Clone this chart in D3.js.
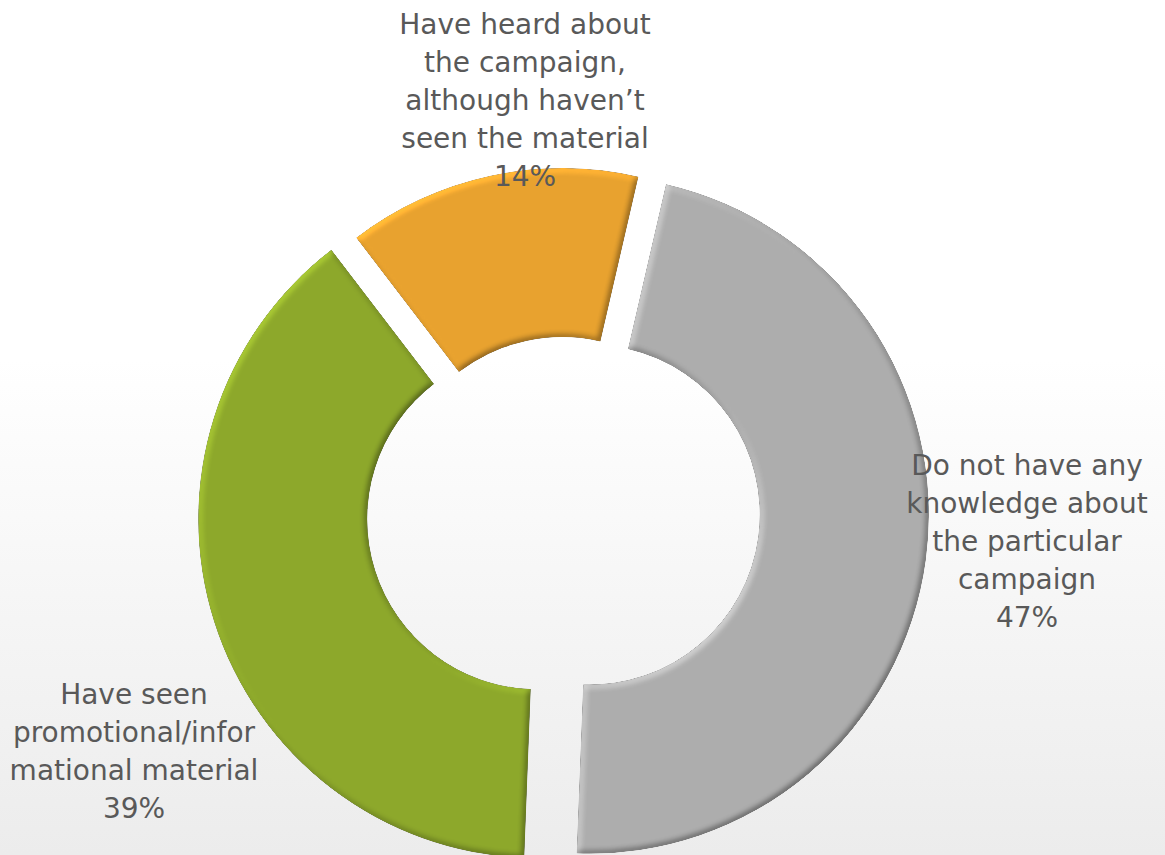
<!DOCTYPE html>
<html>
<head>
<meta charset="utf-8">
<script src="https://cdn.jsdelivr.net/npm/d3@7"></script>
<style>
  html, body { margin: 0; padding: 0; background: #fff; }
  svg { display: block; }
</style>
</head>
<body>
<svg id="chart" width="1165" height="855"></svg>
<script>
// Awareness of the campaign – share of respondents
const categories = [
  "Do not have any knowledge about the particular campaign",
  "Have seen promotional/informational material",
  "Have heard about the campaign, although haven’t seen the material"
];
const shares = [47, 39, 14];
const labelLines = [
  ["Do not have any", "knowledge about", "the particular", "campaign"],
  ["Have seen", "promotional/infor", "mational material"],
  ["Have heard about", "the campaign,", "although haven’t", "seen the material"]
];
const colors = ["#adadad", "#8da82b", "#e8a22f"];

// Layout
const W = 1165, H = 855;
const center = { x: 563, y: 511 };
const outerR = 339, innerR = 170;
const firstSliceDeg = 13;
const explode = [27, 27, 4];           // outward offset of each slice
const labelPos = [                     // centre x / first baseline of each label block
  { x: 1027, y: 475 },
  { x: 134, y: 704 },
  { x: 525, y: 34 }
];
const lineH = 38;

const svg = d3.select("#chart");
const defs = svg.append("defs");

// Background: white fading to light grey towards the bottom
const bg = defs.append("linearGradient").attr("id", "bg")
  .attr("x1", 0).attr("y1", 0).attr("x2", 0).attr("y2", 1);
bg.append("stop").attr("offset", 0).attr("stop-color", "#ffffff");
bg.append("stop").attr("offset", 0.42).attr("stop-color", "#ffffff");
bg.append("stop").attr("offset", 1).attr("stop-color", "#ececec");
svg.append("rect").attr("width", W).attr("height", H).attr("fill", "url(#bg)");

// Soft bevel lit from the upper left
const f = defs.append("filter").attr("id", "bevel")
  .attr("x", "-5%").attr("y", "-5%").attr("width", "110%").attr("height", "110%")
  .attr("color-interpolation-filters", "sRGB");
f.append("feGaussianBlur").attr("in", "SourceAlpha").attr("stdDeviation", 3).attr("result", "blur");
f.append("feDiffuseLighting").attr("in", "blur").attr("surfaceScale", 2.5)
  .attr("diffuseConstant", 0.707).attr("lighting-color", "#fff").attr("result", "light")
  .append("feDistantLight").attr("azimuth", 225).attr("elevation", 45);
// colour * (light + 0.5): flat areas keep their colour, lit rims brighten, far rims darken
f.append("feComposite").attr("in", "SourceGraphic").attr("in2", "light")
  .attr("operator", "arithmetic").attr("k1", 1).attr("k2", 0.5).attr("k3", 0).attr("k4", 0)
  .attr("result", "lit");
f.append("feComposite").attr("in", "lit").attr("in2", "SourceAlpha").attr("operator", "in");

const pie = d3.pie().sort(null).value(d => d)
  .startAngle(firstSliceDeg * Math.PI / 180)
  .endAngle(firstSliceDeg * Math.PI / 180 + 2 * Math.PI);
const arc = d3.arc().innerRadius(innerR).outerRadius(outerR);
const arcs = pie(shares);

svg.append("g").selectAll("path")
  .data(arcs)
  .join("path")
  .attr("d", arc)
  .attr("fill", (d, i) => colors[i])
  .attr("filter", "url(#bevel)")
  .attr("transform", (d, i) => {
    const mid = (d.startAngle + d.endAngle) / 2;
    const dx = Math.sin(mid) * explode[i];
    const dy = -Math.cos(mid) * explode[i];
    return `translate(${center.x + dx},${center.y + dy})`;
  });

// Data labels: category name followed by the percentage
const labels = svg.append("g")
  .attr("font-family", "Tahoma, 'DejaVu Sans', Verdana, sans-serif")
  .attr("font-size", 28)
  .attr("fill", "#595959")
  .attr("text-anchor", "middle");

arcs.forEach((d, i) => {
  const lines = labelLines[i].concat([d3.format("d")(shares[i]) + "%"]);
  const t = labels.append("text")
    .attr("x", labelPos[i].x).attr("y", labelPos[i].y);
  lines.forEach((ln, k) => {
    t.append("tspan").attr("x", labelPos[i].x).attr("dy", k === 0 ? 0 : lineH).text(ln);
  });
});
</script>
</body>
</html>
